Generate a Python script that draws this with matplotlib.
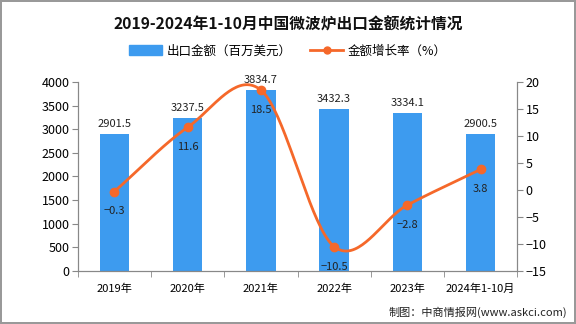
import numpy as np
import matplotlib.pyplot as plt
from matplotlib.lines import Line2D
from matplotlib.patches import Patch

plt.rcParams['font.family'] = ['Noto Sans CJK SC', 'DejaVu Sans']

# 数据
years = ['2019年', '2020年', '2021年', '2022年', '2023年', '2024年1-10月']
export_value = [2901.5, 3237.5, 3834.7, 3432.3, 3334.1, 2900.5]
growth_rate = [-0.3, 11.6, 18.5, -10.5, -2.8, 3.8]

bar_color = '#3d9bef'
line_color = '#f5682a'
axis_color = '#888888'


def smooth(x, y, n=40):
    # curva suave tipo Catmull-Rom solo para dibujar la línea
    x = np.asarray(x, float)
    y = np.asarray(y, float)
    m = np.zeros_like(y)
    m[1:-1] = (y[2:] - y[:-2]) / (x[2:] - x[:-2])
    m[0] = y[1] - y[0]
    m[-1] = y[-1] - y[-2]
    xs, ys = [], []
    for i in range(len(x) - 1):
        t = np.linspace(0, 1, n)
        h = x[i + 1] - x[i]
        h00 = 2 * t**3 - 3 * t**2 + 1
        h10 = t**3 - 2 * t**2 + t
        h01 = -2 * t**3 + 3 * t**2
        h11 = t**3 - t**2
        xs.append(x[i] + t * h)
        ys.append(h00 * y[i] + h10 * h * m[i] + h01 * y[i + 1] + h11 * h * m[i + 1])
    return np.concatenate(xs), np.concatenate(ys)


fig = plt.figure(figsize=(5.76, 3.24), dpi=100)
fig.patch.set_edgecolor('#999999')
fig.patch.set_linewidth(1.5)
ax = fig.add_axes([0.135, 0.164, 0.763, 0.583])
ax2 = ax.twinx()

x = np.arange(len(years))
ax.bar(x, export_value, width=0.4, color=bar_color, zorder=2)
for xi, v in zip(x, export_value):
    ax.text(xi, v + 110, f'{v}', ha='center', va='bottom', fontsize=8, color='#222222')

ax.set_xlim(-0.5, len(years) - 0.5)
ax.set_ylim(0, 4000)
ax.set_yticks(np.arange(0, 4001, 500))
ax.set_xticks(x)
ax.set_xticklabels(years, fontsize=8)
ax.set_xticks(np.arange(-0.5, len(years), 1), minor=True)
ax.tick_params(axis='x', which='major', length=0, pad=9)
ax.tick_params(axis='x', which='minor', length=4, color=axis_color)
ax.tick_params(axis='y', labelsize=9, length=4, color=axis_color, pad=2)

xs, ys = smooth(x, growth_rate)
ax2.plot(xs, ys, color=line_color, lw=2, zorder=3)
ax2.plot(x, growth_rate, 'o', color=line_color, ms=6, zorder=4)
for xi, v in zip(x, growth_rate):
    ax2.text(xi, v - 3.7, f'{v}'.replace('-', '−'), ha='center', va='center', fontsize=8, color='#222222')
ax2.set_ylim(-15, 20)
ax2.set_yticks(np.arange(-15, 21, 5))
ax2.set_yticklabels([str(t).replace('-', '−') for t in range(-15, 21, 5)])
ax2.tick_params(axis='y', labelsize=9, length=4, color=axis_color, pad=2)

for a in (ax, ax2):
    a.spines['top'].set_visible(False)
    for s in ('left', 'right', 'bottom'):
        a.spines[s].set_color(axis_color)
ax.set_zorder(ax2.get_zorder() - 1)
ax2.patch.set_visible(False)
ax.patch.set_visible(False)

fig.text(0.5, 0.925, '2019-2024年1-10月中国微波炉出口金额统计情况', ha='center', va='center',
         fontsize=11.3, fontweight='bold', color='#111111')

handles = [Patch(color=bar_color, label='出口金额（百万美元）'),
           Line2D([0], [0], color=line_color, lw=2, marker='o', ms=5, label='金额增长率（%）')]
fig.legend(handles=handles, loc='center', bbox_to_anchor=(0.5, 0.843), ncol=2, frameon=False,
           fontsize=9, handlelength=2.6, handleheight=0.9, handletextpad=0.4, columnspacing=1.5)

fig.text(0.985, 0.035, '制图：中商情报网(www.askci.com)', ha='right', va='center', fontsize=8,
         color='#222222')

fig.savefig('out.png', dpi=100)
